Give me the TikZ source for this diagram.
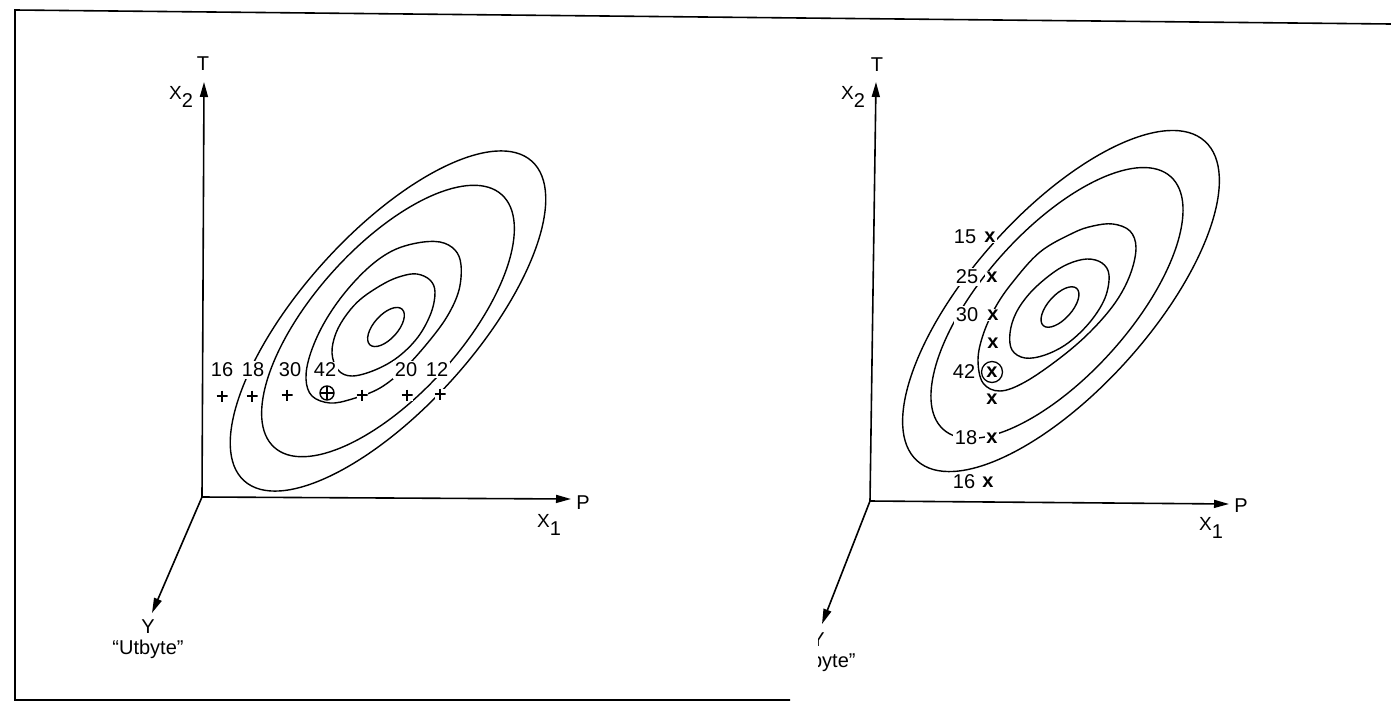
\documentclass[tikz,border=0pt]{standalone}
\usepackage{fontspec}
\setmainfont{Liberation Sans}
\usetikzlibrary{arrows.meta}
\newcommand\axlab[2]{{\fontsize{19}{19}\selectfont #1}\raisebox{-8pt}{\fontsize{20}{20}\selectfont #2}}
\begin{document}
\begin{tikzpicture}[x=1pt,y=-1pt,
  axis/.style={line width=1.6pt,-{Triangle[length=15pt,width=8pt]}},
  ring/.style={line width=1.4pt},
  frame/.style={line width=1.6pt},
  lbl/.style={font=\fontsize{20}{20}\selectfont, inner sep=0pt},
  num/.style={font=\fontsize{20}{20}\selectfont, fill=white, inner sep=1.5pt},
  xm/.style={font=\fontsize{20}{20}\selectfont\bfseries, fill=white, inner sep=1pt},
  plusmark/.style={minimum size=11pt, inner sep=0pt, fill=white,
    path picture={\draw[line width=2pt] (path picture bounding box.north) -- (path picture bounding box.south)
      (path picture bounding box.west) -- (path picture bounding box.east);}},
  oplusmark/.style={circle, draw, line width=1.4pt, minimum size=14pt, inner sep=0pt, fill=white,
    path picture={\draw[line width=1.4pt] (path picture bounding box.north) -- (path picture bounding box.south)
      (path picture bounding box.west) -- (path picture bounding box.east);}},
  cxmark/.style={circle, draw, line width=1.3pt, minimum size=21pt, inner sep=0pt, fill=white,
    font=\fontsize{20}{20}\selectfont\bfseries}
]
\useasboundingbox (0,0) rectangle (1391,707);
% frame
\draw[frame] (1391,24) -- (15,10) -- (15,700) -- (790,700);

% ================= left panel =================
\coordinate (O1) at (202,497);
\coordinate (T1) at (204,82);
\coordinate (P1) at (571,499);
\coordinate (Y1) at (152,613);
\coordinate (C1) at (388,321);
\coordinate (I1) at (386,327);
\draw[axis] (O1) -- (T1);
\draw[axis] (O1) -- (P1);
\draw[axis] (O1) -- (Y1);
\node[lbl] (t1) at (203,64) {T};
\node[lbl] (xa1) at (181,97) {\axlab{X}{2}};
\node[lbl] (p1) at (583,503) {P};
\node[lbl] (xb1) at (549,525) {\axlab{X}{1}};
\node[lbl] (y1) at (148,627) {Y};
\node[lbl] (u1) at (148,649) {``Utbyte''};

\draw[ring, rotate around={48:(C1)}] (C1) ellipse [x radius=215pt, y radius=87pt];
\draw[ring, rotate around={48:(C1)}] (C1) ellipse [x radius=170pt, y radius=74pt];
\draw[ring] plot[smooth cycle, tension=0.6] coordinates {
  (417,243) (440,242) (455,250) (461,265) (459,290) (448,315) (430,340) (405,368)
  (380,388) (352,399) (330,403) (312,396) (306,379) (310,355) (323,325) (343,295)
  (368,268) (392,251)};
\draw[ring] plot[smooth cycle, tension=0.6] coordinates {
  (417,274) (430,280) (435,292) (431,313) (418,337) (398,357) (375,370) (352,376)
  (338,370) (332,353) (336,333) (347,314) (362,298) (385,283) (402,276)};
\draw[ring, rotate around={48:(I1)}] (I1) ellipse [x radius=24pt, y radius=12pt];

\node[num] (n16) at (222,370) {16};
\node[num] (n18) at (253,370) {18};
\node[num] (n30) at (290,370) {30};
\node[num] (n42) at (325,370) {42};
\node[num] (n20) at (406,370) {20};
\node[num] (n12) at (437,370) {12};
\node[plusmark] (a1) at (222,396) {};
\node[plusmark] (a2) at (252,396) {};
\node[plusmark] (a3) at (287,395) {};
\node[oplusmark] (a4) at (327,393) {};
\node[plusmark] (a5) at (362,395) {};
\node[plusmark] (a6) at (407,395) {};
\node[plusmark] (a7) at (440,394) {};

% ================= right panel =================
\coordinate (O2) at (870,501);
\coordinate (T2) at (876,82);
\coordinate (P2) at (1229,504);
\coordinate (Y2) at (822,624);
\coordinate (C2a) at (1061,301);
\coordinate (C2b) at (1057,303);
\coordinate (I2) at (1060,307);
\draw[axis] (O2) -- (T2);
\draw[axis] (O2) -- (P2);
\draw[axis] (O2) -- (Y2);
\node[lbl] (t2) at (877,65) {T};
\node[lbl] (xa2) at (853,97) {\axlab{X}{2}};
\node[lbl] (p2) at (1241,506) {P};
\node[lbl] (xb2) at (1211,528) {\axlab{X}{1}};
\begin{scope}
  \clip (818,600) rectangle (900,690);
  \node[lbl] (y2) at (818,640) {Y};
  \node[lbl] (u2) at (820,662) {``Utbyte''};
\end{scope}

\draw[ring, rotate around={48:(C2a)}] (C2a) ellipse [x radius=215pt, y radius=89pt];
\draw[ring, rotate around={48:(C2b)}] (C2b) ellipse [x radius=170pt, y radius=73pt];
\draw[ring] plot[smooth cycle, tension=0.6] coordinates {
  (1073,233) (1093,226) (1113,224) (1130,231) (1136,248) (1130,275) (1115,303)
  (1090,332) (1060,358) (1025,382) (1000,391) (983,383) (978,360) (983,335)
  (995,308) (1012,283) (1040,252)};
\draw[ring] plot[smooth cycle, tension=0.6] coordinates {
  (1087,259) (1102,263) (1109,275) (1105,298) (1090,322) (1068,343) (1045,355)
  (1025,358) (1012,350) (1010,333) (1016,313) (1030,293) (1050,275) (1068,264)};
\draw[ring, rotate around={48:(I2)}] (I2) ellipse [x radius=25pt, y radius=12pt];

\node[num] (m15) at (965,237) {15};
\node[num] (m25) at (967,277) {25};
\node[num] (m30) at (967,315) {30};
\node[num] (m42) at (964,372) {42};
\node[num] (m18) at (966,438) {18};
\node[num] (m16) at (964,482) {16};
\node[xm] (b1) at (990,237) {x};
\node[xm] (b2) at (992,277) {x};
\node[xm] (b3) at (993,315) {x};
\node[xm] (b4) at (993,343) {x};
\node[cxmark] (b5) at (992,372) {x};
\node[xm] (b6) at (992,399) {x};
\node[xm] (b7) at (992,438) {x};
\node[xm] (b8) at (988,482) {x};
\end{tikzpicture}
\end{document}
